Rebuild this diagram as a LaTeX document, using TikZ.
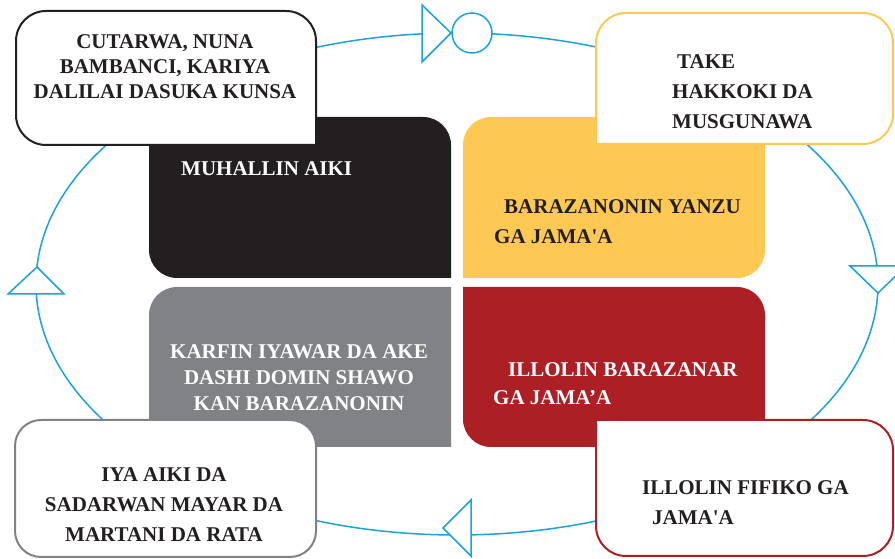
\documentclass[tikz,border=0pt]{standalone}
\usepackage{fontspec}
\setmainfont{Liberation Serif}[Ligatures=TeXOff]
\usepackage{tikz}
\usetikzlibrary{calc}
\definecolor{cycleblue}{RGB}{27,161,221}
\definecolor{stepblack}{RGB}{35,31,32}
\definecolor{stepyellow}{RGB}{254,201,82}
\definecolor{stepgray}{RGB}{128,130,133}
\definecolor{stepred}{RGB}{172,31,36}
\newcommand{\quadrad}{28}
\newcommand{\boxrad}{30}
\newcommand{\leadfont}[1]{\fontsize{21}{#1}\selectfont\bfseries}
\tikzstyle{cycleline}=[draw=cycleblue,line width=1.5pt]
\tikzstyle{cyclemark}=[draw=cycleblue,line width=1.5pt,fill=white,line join=miter]
\tikzstyle{cornerbox}=[fill=white,line width=2pt]
\tikzstyle{steptext}=[inner sep=0pt,font=\leadfont{26},text=stepblack]

\begin{document}
\begin{tikzpicture}[x=1pt,y=1pt]
  \useasboundingbox (0,0) rectangle (895,559);
  % Cycle.
  \path[cycleline] (457,275) ellipse [x radius=421,y radius=251];
  % Inner steps.
  \path[fill=stepblack] (149,442) -- (451-\quadrad,442)
    arc[start angle=90,end angle=0,radius=\quadrad] -- (451,281)
    -- (149+\quadrad,281) arc[start angle=270,end angle=180,radius=\quadrad] -- cycle;
  \path[fill=stepyellow] (463,442-\quadrad)
    arc[start angle=180,end angle=90,radius=\quadrad] -- (765,442)
    -- (765,281+\quadrad) arc[start angle=0,end angle=-90,radius=\quadrad]
    -- (463,281) -- cycle;
  \path[fill=stepgray] (149,272-\quadrad)
    arc[start angle=180,end angle=90,radius=\quadrad] -- (451,272)
    -- (451,112) -- (149,112) -- cycle;
  \path[fill=stepred] (463,272) -- (765-\quadrad,272)
    arc[start angle=90,end angle=0,radius=\quadrad] -- (765,112)
    -- (463+\quadrad,112) arc[start angle=270,end angle=180,radius=\quadrad] -- cycle;
  % Corner boxes.
  \path[cornerbox,draw=stepblack] (16,548-\boxrad)
    arc[start angle=180,end angle=90,radius=\boxrad] -- (316-\boxrad,548)
    arc[start angle=90,end angle=0,radius=\boxrad] -- (316,414)
    -- (16+\boxrad,414) arc[start angle=270,end angle=180,radius=\boxrad] -- cycle;
  \path[cornerbox,draw=stepyellow] (596,546-\boxrad)
    arc[start angle=180,end angle=90,radius=\boxrad] -- (893-\boxrad,546)
    arc[start angle=90,end angle=0,radius=\boxrad] -- (893,415+\boxrad)
    arc[start angle=0,end angle=-90,radius=\boxrad] -- (596,415) -- cycle;
  \path[cornerbox,draw=stepgray,rounded corners=26pt] (15,2) rectangle (316,139);
  \path[cornerbox,draw=stepred] (596,139) -- (893-\boxrad,139)
    arc[start angle=90,end angle=0,radius=\boxrad] -- (893,3+\boxrad)
    arc[start angle=0,end angle=-90,radius=\boxrad] -- (596+\boxrad,3)
    arc[start angle=270,end angle=180,radius=\boxrad] -- cycle;
  % Cycle marks.
  \path[cyclemark] (422,554) -- (451,526) -- (422,497) -- cycle;
  \path[cyclemark] (472,526) circle [radius=20];
  \path[cyclemark] (8,265) -- (37,292) -- (64,265) -- cycle;
  \path[cyclemark] (850,293) -- (878,266) -- (906,293) -- cycle;
  \path[cyclemark] (471,59) -- (443,31) -- (471,3) -- cycle;
  % Texts.
  \node[steptext,align=center,font=\leadfont{25}] (cutarwa) at (165,492)
    {CUTARWA, NUNA\\BAMBANCI, KARIYA\\DALILAI DASUKA KUNSA};
  \node[steptext,align=left,anchor=west,font=\leadfont{30}] (hakkoki) at (672,467)
    {\hspace{5pt}TAKE\\HAKKOKI DA\\MUSGUNAWA};
  \node[steptext,anchor=west,text=white] (muhallin) at (181,390) {MUHALLIN AIKI};
  \node[steptext,align=left,anchor=west,font=\leadfont{30}] (yanzu) at (494,337)
    {\hspace{10pt}BARAZANONIN YANZU\\GA JAMA'A};
  \node[steptext,align=center,text=white] (karfin) at (299,181)
    {KARFIN IYAWAR DA AKE\\DASHI DOMIN SHAWO\\KAN BARAZANONIN};
  \node[steptext,align=left,anchor=west,text=white,font=\leadfont{28}] (barazanar) at (493,175)
    {\hspace{15pt}ILLOLIN BARAZANAR\\GA JAMA’A};
  \node[steptext,align=center,font=\leadfont{30}] (mayar) at (164,54)
    {IYA AIKI DA\\SADARWAN MAYAR DA\\MARTANI DA RATA};
  \node[steptext,align=left,anchor=west,font=\leadfont{30}] (fifiko) at (642,56)
    {ILLOLIN FIFIKO GA\\\hspace{10pt}JAMA'A};
\end{tikzpicture}
\end{document}
